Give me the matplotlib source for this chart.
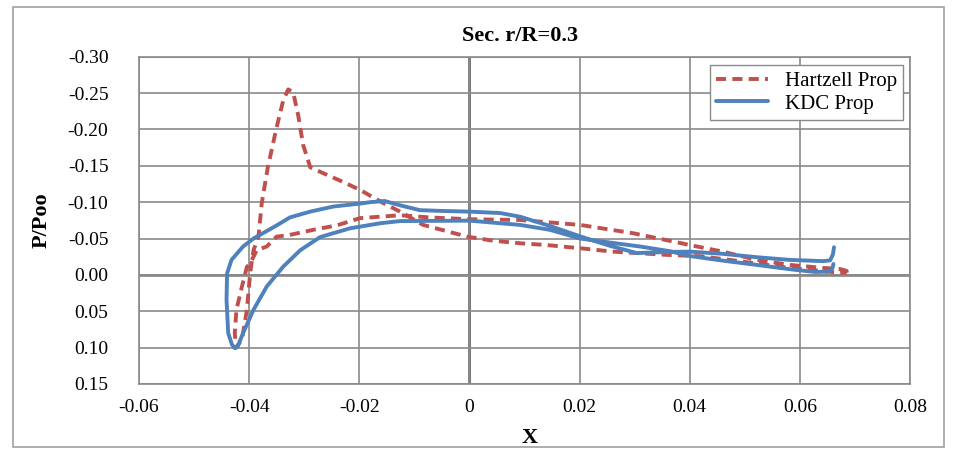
import matplotlib.pyplot as plt
from matplotlib.patches import Rectangle
from matplotlib.ticker import FuncFormatter, MultipleLocator

# Hartzell Prop: trailing edge -> flat side -> leading edge -> suction peak -> trailing edge
hartzell_x = [0.0685, 0.0685, 0.0672, 0.0642, 0.0582, 0.0522, 0.0460, 0.0400, 0.0382, 0.0297,
              0.0201, 0.0092, 0.0000, -0.0072, -0.0126, -0.0199, -0.0241, -0.0277, -0.0326,
              -0.0350, -0.0368, -0.0386, -0.0398, -0.0404, -0.0413, -0.0423, -0.0426, -0.0424,
              -0.0413, -0.0404, -0.0398, -0.0392, -0.0383, -0.0377, -0.0366, -0.0350, -0.0338,
              -0.0329, -0.0320, -0.0311, -0.0302, -0.0289, -0.0266, -0.0230, -0.0199, -0.0157,
              -0.0126, -0.0084, -0.0004, 0.0043, 0.0092, 0.0141, 0.0214, 0.0260, 0.0359,
              0.0419, 0.0473, 0.0527, 0.0582, 0.0637, 0.0673, 0.0685]
hartzell_y = [-0.003, -0.0055, -0.0082, -0.0096, -0.0137, -0.0206, -0.032, -0.041, -0.044, -0.0573,
              -0.0687, -0.0755, -0.0765, -0.079, -0.082, -0.078, -0.068, -0.063, -0.055,
              -0.0526, -0.039, -0.034, -0.016, -0.011, 0.016, 0.048, 0.080, 0.100,
              0.089, 0.048, -0.003, -0.034, -0.0526, -0.099, -0.148, -0.203, -0.240,
              -0.255, -0.251, -0.220, -0.179, -0.148, -0.140, -0.128, -0.117, -0.099,
              -0.087, -0.0687, -0.0526, -0.047, -0.0435, -0.041, -0.0357, -0.032, -0.0275,
              -0.0257, -0.0206, -0.0151, -0.0096, -0.0055, -0.003, -0.003]

# KDC Prop: trailing edge hook -> upper side -> leading edge -> lower side -> trailing edge
kdc_x = [0.0662, 0.0660, 0.0655, 0.0642, 0.0582, 0.0522, 0.0460, 0.0400, 0.0364, 0.0304,
         0.0255, 0.0201, 0.0146, 0.0092, 0.0056, 0.0000, -0.0053, -0.0090, -0.0126, -0.0154,
         -0.0180, -0.0199, -0.0247, -0.0289, -0.0326, -0.0350, -0.0392, -0.0411, -0.0432,
         -0.0440, -0.0441, -0.0438, -0.0431, -0.0426, -0.0421, -0.0411, -0.0392, -0.0368,
         -0.0338, -0.0307, -0.0271, -0.0217, -0.0162, -0.0126, 0.0000, 0.0092, 0.0146,
         0.0201, 0.0255, 0.0310, 0.0364, 0.0400, 0.0460, 0.0522, 0.0582, 0.0628, 0.0642,
         0.0651, 0.0659, 0.0661]
kdc_y = [-0.038, -0.028, -0.020, -0.0189, -0.0206, -0.0243, -0.029, -0.032, -0.0316, -0.030,
         -0.040, -0.053, -0.0673, -0.080, -0.085, -0.087, -0.088, -0.089, -0.0957, -0.1016,
         -0.100, -0.098, -0.094, -0.087, -0.079, -0.068, -0.050, -0.039, -0.0206,
         -0.002, 0.034, 0.080, 0.096, 0.1007, 0.099, 0.080, 0.048, 0.016,
         -0.0114, -0.034, -0.052, -0.064, -0.071, -0.074, -0.0746, -0.0687, -0.062,
         -0.050, -0.0445, -0.039, -0.0326, -0.026, -0.0196, -0.0137, -0.0078, -0.004, -0.0043,
         -0.0045, -0.009, -0.015]

x_ticks = [-0.06, -0.04, -0.02, 0, 0.02, 0.04, 0.06, 0.08]

plt.rcParams['font.family'] = ['Liberation Serif', 'DejaVu Serif']
plt.rcParams['axes.unicode_minus'] = False

fig = plt.figure(figsize=(9.57, 4.59), dpi=100)
ax = fig.add_axes([0.1452, 0.1634, 0.8057, 0.7131])

fig.patches.append(Rectangle((13 / 957, 1 - 447 / 459), 931 / 957, 440 / 459,
                             transform=fig.transFigure, fill=False, edgecolor='#a0a0a0', lw=1.2))

ax.plot(hartzell_x, hartzell_y, color='#C0504D', lw=2.8, dashes=(2.6, 1.6), label='Hartzell Prop',
        solid_joinstyle='round', dash_joinstyle='round')
ax.plot(kdc_x, kdc_y, color='#4F81BD', lw=2.8, label='KDC Prop', solid_joinstyle='round',
        solid_capstyle='round')

ax.set_xlim(-0.06, 0.08)
ax.set_ylim(0.15, -0.30)
ax.set_xticks(x_ticks)
ax.yaxis.set_major_locator(MultipleLocator(0.05))
ax.xaxis.set_major_formatter(FuncFormatter(lambda v, p: '0' if abs(v) < 1e-9 else '%.2f' % v))
ax.yaxis.set_major_formatter(FuncFormatter(lambda v, p: '%.2f' % (0 if abs(v) < 1e-9 else v)))
ax.tick_params(length=0, labelsize=14)
ax.tick_params(axis='y', pad=22)
ax.tick_params(axis='x', pad=11)

ax.grid(True, color='#8a8a8a', lw=1.2)
ax.set_axisbelow(True)
ax.axvline(0, color='#7a7a7a', lw=2.2, zorder=0.5)
ax.axhline(0, color='#7a7a7a', lw=1.8, zorder=0.5)
for s in ax.spines.values():
    s.set_color('#8a8a8a')
    s.set_linewidth(1.2)

ax.set_xlabel('X', fontsize=16, fontweight='bold')
ax.set_ylabel('P/Poo', fontsize=16, fontweight='bold')
ax.xaxis.set_label_coords(0.507, -0.135)
ax.yaxis.set_label_coords(-0.113, 0.5)
ax.text(0.494, 1.062, 'Sec. r/R=0.3', transform=ax.transAxes, ha='center', va='center',
        fontsize=16, fontweight='bold')

leg = ax.legend(loc='upper right', bbox_to_anchor=(0.991, 0.9747), fontsize=15, fancybox=False,
                framealpha=1, edgecolor='#8a8a8a', borderaxespad=0, handlelength=2.5,
                labelspacing=0.15, borderpad=0.3)
leg.get_frame().set_linewidth(1.0)

fig.savefig('out.png', dpi=100)
